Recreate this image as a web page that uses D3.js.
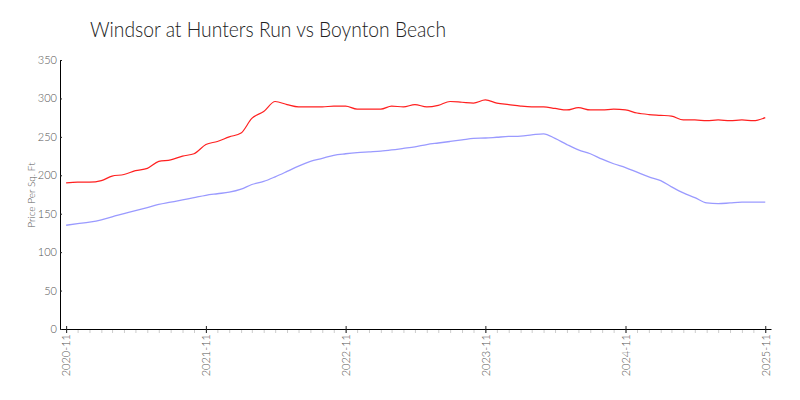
<!DOCTYPE html>
<html>
<head>
<meta charset="utf-8">
<script src="https://cdn.jsdelivr.net/npm/d3@7"></script>
<style>
  body { margin: 0; background: #fff; }
  svg text { font-family: Lato, "Open Sans", sans-serif; font-weight: 300; }
</style>
</head>
<body>
<div id="chart"></div>
<script>
"use strict";

// monthly data, 2020-11 .. 2025-11
var start_month = "2020-11";
var windsor = [190, 191, 191, 193, 199, 201, 206, 209, 218, 220,
  225, 228, 240, 244, 250, 255, 274, 283, 296, 292,
  289, 289, 289, 290, 290, 286, 286, 286, 290, 289,
  292, 289, 291, 296, 295, 294, 298, 294, 292, 290,
  289, 289, 287, 285, 288, 285, 285, 286, 285, 281,
  279, 278, 277, 272, 272, 271, 272, 271, 272, 271, 275];
var boynton = [135, 137, 139, 142, 146, 150, 154, 158, 162, 165,
  168, 171, 174, 176, 178, 182, 188, 192, 198, 205,
  212, 218, 222, 226, 228, 229.5, 230.5, 231.5, 233, 235,
  237, 240, 242, 244, 246, 248, 248.5, 249.5, 250.5, 251,
  252.5, 254, 248, 240, 233, 228, 221, 215, 210, 204,
  198, 193, 185, 177, 171, 164, 163, 164, 165, 165, 165];
var x_ticks = ["2020-11", "2021-11", "2022-11", "2023-11", "2024-11", "2025-11"];
var y_ticks = [0, 50, 100, 150, 200, 250, 300, 350];

var width = 800, height = 400;
var parse = d3.timeParse("%Y-%m");
var t0 = parse(start_month);
var dates = windsor.map((d, i) => d3.timeMonth.offset(t0, i));

var svg = d3.select("#chart").append("svg")
  .attr("width", width)
  .attr("height", height);

var x = d3.scaleTime()
  .domain([d3.timeDay.offset(dates[0], -16), d3.timeDay.offset(dates[dates.length - 1], 15)])
  .range([60, 771]);
var y = d3.scaleLinear().domain([0, 350]).range([329, 60]);

// title
svg.append("text")
  .attr("x", 90).attr("y", 37)
  .attr("textLength", 356)
  .attr("lengthAdjust", "spacingAndGlyphs")
  .style("font-size", "21px")
  .style("fill", "#222")
  .text("Windsor at Hunters Run vs Boynton Beach");

// minor month ticks
var minor = svg.append("g")
  .attr("transform", "translate(0,329)")
  .call(d3.axisBottom(x).tickValues(dates).tickSize(4).tickFormat(""));
minor.select(".domain").remove();
minor.selectAll("line").attr("stroke", "#ccc");

// x axis
var xa = svg.append("g")
  .attr("transform", "translate(0,329)")
  .call(d3.axisBottom(x).tickValues(x_ticks.map(parse)).tickSize(4)
    .tickFormat(d3.timeFormat("%Y-%m")).tickSizeOuter(0));
xa.selectAll(".tick line").attr("y1", -3).attr("stroke", "#222");
xa.select(".domain").attr("stroke", "#000");
xa.selectAll("text")
  .attr("transform", "rotate(-90)")
  .attr("x", -5).attr("y", 0).attr("dy", "0.35em")
  .style("text-anchor", "end")
  .style("font-size", "11px")
  .style("fill", "#555");

// y axis
var ya = svg.append("g")
  .attr("transform", "translate(60,0)")
  .call(d3.axisLeft(y).tickValues(y_ticks).tickSize(3).tickSizeOuter(0));
ya.selectAll(".tick line").attr("x2", 2).attr("stroke", "#222");
ya.select(".domain").attr("stroke", "#000");
ya.selectAll("text")
  .attr("x", -3)
  .style("font-size", "11px")
  .style("fill", "#555");

svg.append("text")
  .attr("transform", "translate(35,195) rotate(-90)")
  .style("text-anchor", "middle")
  .style("font-size", "10px")
  .style("fill", "#555")
  .text("Price Per Sq. Ft");

var line = d3.line()
  .x((d, i) => x(dates[i]))
  .y(d => y(d))
  .curve(d3.curveMonotoneX);

svg.append("path")
  .datum(boynton)
  .attr("d", line)
  .attr("fill", "none")
  .attr("stroke", "#9a9aff")
  .attr("stroke-width", 1.3);

svg.append("path")
  .datum(windsor)
  .attr("d", line)
  .attr("fill", "none")
  .attr("stroke", "#ff2020")
  .attr("stroke-width", 1.2);
</script>
</body>
</html>
